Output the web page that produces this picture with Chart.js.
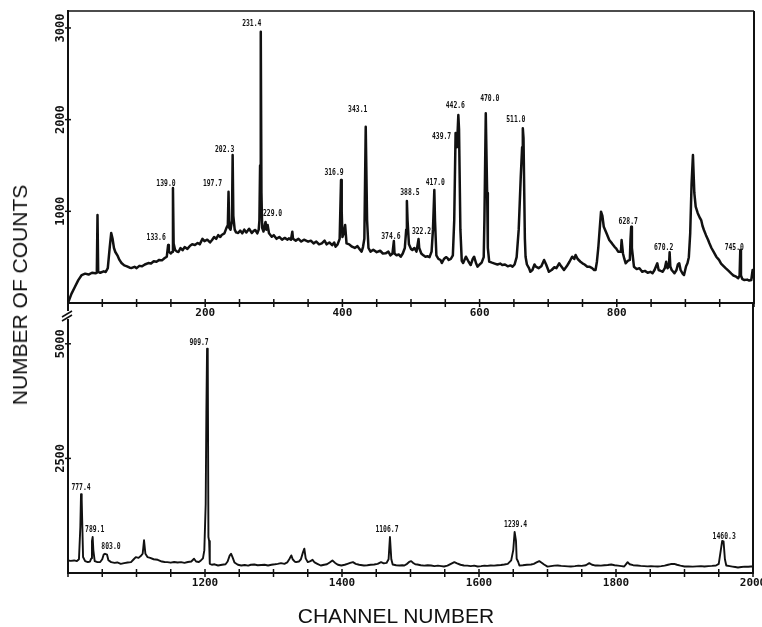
<!DOCTYPE html>
<html>
<head>
<meta charset="utf-8">
<script src="https://cdn.jsdelivr.net/npm/chart.js@4.4.1/dist/chart.umd.min.js"></script>
<style>
  html, body { margin: 0; padding: 0; background: #fff; }
  #sheet { position: relative; width: 762px; height: 627px; overflow: hidden; background: #fff; }
  #sheet canvas { position: absolute; left: 0; }
  #topChart { top: 0; }
  #bottomChart { top: 290px; }
  .title { position: absolute; font: 21px "Liberation Sans", Arial, sans-serif; color: #111; white-space: nowrap; }
  #yTitle { left: 20px; top: 295px; transform: translate(-50%, -50%) rotate(-90deg); }
  #xTitle { left: 396px; top: 616px; transform: translate(-50%, -50%); }
</style>
</head>
<body>
<div id="sheet">
  <canvas id="topChart" width="790" height="330"></canvas>
  <canvas id="bottomChart" width="790" height="337"></canvas>
  <div class="title" id="yTitle">NUMBER OF COUNTS</div>
  <div class="title" id="xTitle">CHANNEL NUMBER</div>
</div>
<script>
// spectrum, channels 0-1000
const topChannels = [
  0, 5, 10, 15, 20, 25, 30, 35, 40, 42,
  43, 44, 47, 52, 55, 58, 61, 63, 65, 67,
  69, 72, 75, 78, 82, 86, 90, 93, 97, 100,
  104, 108, 112, 117, 121, 125, 129, 133, 137, 141,
  144, 146, 147, 150, 152, 153, 154, 156, 159, 161,
  164, 167, 170, 174, 178, 181, 185, 189, 192, 196,
  199, 203, 207, 210, 213, 216, 219, 222, 224, 228,
  231, 233, 234, 235, 237, 239, 240, 241, 243, 245,
  248, 251, 254, 257, 260, 264, 268, 271, 273, 276,
  278, 279, 280, 281, 282, 283, 285, 287, 288, 289,
  291, 293, 297, 300, 304, 308, 312, 316, 320, 322,
  325, 327, 328, 332, 336, 340, 344, 350, 354, 358,
  362, 366, 370, 374, 377, 381, 385, 388, 390, 393,
  396, 398, 399, 400, 402, 404, 406, 410, 414, 418,
  422, 426, 428, 430, 432, 434, 436, 438, 441, 445,
  450, 455, 459, 463, 467, 470, 473, 475, 476, 479,
  482, 485, 488, 491, 493, 494, 495, 497, 500, 502,
  505, 508, 511, 512, 515, 518, 521, 524, 527, 530,
  532, 534, 535, 537, 540, 543, 545, 548, 551, 553,
  555, 558, 561, 563, 565, 567, 569, 570, 572, 574,
  576, 580, 584, 587, 590, 592, 595, 597, 600, 603,
  606, 607, 609, 611, 612, 614, 618, 622, 626, 630,
  633, 637, 641, 645, 648, 651, 654, 657, 660, 662,
  663, 664, 666, 667, 669, 672, 674, 677, 680, 682,
  686, 690, 694, 697, 701, 705, 709, 712, 716, 719,
  723, 727, 731, 735, 738, 740, 743, 747, 750, 753,
  757, 760, 764, 767, 769, 771, 773, 775, 777, 779,
  781, 785, 789, 793, 797, 799, 802, 806, 807, 809,
  811, 813, 816, 819, 820, 821, 822, 825, 829, 833,
  837, 841, 845, 849, 852, 855, 859, 861, 864, 867,
  870, 872, 874, 876, 877, 878, 880, 884, 887, 889,
  891, 893, 896, 898, 901, 903, 905, 907, 909, 911,
  912, 913, 915, 918, 921, 923, 925, 927, 930, 933,
  935, 938, 941, 945, 949, 952, 956, 959, 963, 967,
  970, 974, 977, 979, 980, 981, 983, 986, 990, 993,
  996, 998, 999, 1000
];
const topCounts = [
  0, 100, 175, 250, 305, 320, 310, 330, 325, 330,
  960, 340, 330, 345, 338, 380, 620, 764, 700, 600,
  556, 520, 470, 436, 410, 400, 385, 382, 395, 380,
  405, 400, 420, 436, 430, 455, 450, 470, 465, 490,
  505, 633, 560, 540, 560, 1254, 650, 580, 560, 556,
  600, 575, 610, 590, 625, 640, 633, 655, 640, 700,
  675, 690, 660, 687, 720, 700, 740, 720, 742, 760,
  820, 850, 1214, 820, 800, 900, 1614, 950, 800, 770,
  764, 790, 760, 800, 770, 810, 764, 790, 796, 760,
  800, 900, 1500, 2960, 1200, 820, 780, 860, 884, 800,
  850, 760, 723, 740, 700, 720, 690, 710, 690, 705,
  690, 778, 700, 680, 700, 670, 690, 669, 680, 650,
  670, 640, 651, 680, 640, 660, 630, 660, 614, 640,
  700, 1342, 1000, 720, 760, 851, 650, 640, 614, 600,
  620, 578, 560, 610, 700, 1923, 900, 600, 560, 580,
  555, 570, 540, 542, 560, 520, 540, 676, 540, 520,
  530, 505, 540, 600, 800, 1113, 900, 640, 590, 578,
  600, 560, 698, 600, 540, 520, 505, 510, 500, 560,
  800, 1233, 900, 520, 480, 469, 436, 480, 500, 490,
  469, 480, 520, 900, 1854, 1700, 2051, 1900, 800, 460,
  436, 505, 450, 414, 480, 505, 430, 396, 420, 440,
  500, 900, 2069, 1200, 600, 451, 440, 430, 420, 430,
  414, 420, 400, 410, 396, 420, 500, 800, 1378, 1700,
  1905, 1800, 700, 505, 420, 380, 341, 360, 420, 396,
  380, 400, 469, 420, 341, 360, 390, 380, 433, 400,
  360, 400, 450, 505, 480, 524, 480, 450, 433, 420,
  396, 396, 380, 360, 360, 450, 600, 800, 996, 950,
  832, 760, 687, 650, 610, 596, 560, 560, 687, 540,
  480, 433, 460, 470, 700, 833, 600, 396, 370, 380,
  341, 350, 330, 340, 324, 360, 433, 360, 350, 341,
  380, 451, 380, 400, 553, 400, 360, 324, 360, 420,
  433, 360, 320, 305, 400, 433, 500, 760, 1300, 1614,
  1400, 1200, 1050, 980, 930, 905, 840, 796, 740, 690,
  651, 600, 560, 505, 470, 430, 400, 378, 350, 320,
  300, 287, 270, 300, 578, 300, 260, 251, 255, 245,
  251, 360, 280, 280
];

// spectrum, channels 1000-2000
const bottomChannels = [
  1000, 1004, 1009, 1013, 1016, 1018, 1019, 1020, 1022, 1025,
  1029, 1032, 1034, 1035, 1036, 1037, 1039, 1043, 1047, 1050,
  1052, 1054, 1057, 1059, 1063, 1068, 1072, 1077, 1082, 1087,
  1092, 1096, 1099, 1103, 1107, 1109, 1111, 1113, 1116, 1120,
  1125, 1131, 1137, 1141, 1145, 1150, 1155, 1160, 1165, 1170,
  1175, 1180, 1184, 1187, 1191, 1194, 1197, 1199, 1201, 1202,
  1203, 1204, 1205, 1206, 1207, 1210, 1214, 1219, 1225, 1230,
  1233, 1236, 1238, 1240, 1243, 1248, 1253, 1258, 1263, 1267,
  1272, 1277, 1282, 1287, 1292, 1297, 1302, 1306, 1311, 1316,
  1320, 1323, 1326, 1328, 1331, 1333, 1337, 1340, 1343, 1345,
  1347, 1350, 1354, 1357, 1360, 1364, 1369, 1374, 1378, 1382,
  1386, 1390, 1394, 1399, 1404, 1408, 1412, 1416, 1420, 1425,
  1432, 1437, 1442, 1447, 1452, 1457, 1461, 1465, 1468, 1470,
  1472, 1474, 1479, 1484, 1488, 1491, 1495, 1498, 1501, 1504,
  1507, 1510, 1515, 1520, 1525, 1530, 1535, 1540, 1545, 1549,
  1554, 1559, 1564, 1568, 1573, 1578, 1583, 1588, 1593, 1598,
  1603, 1608, 1612, 1617, 1622, 1627, 1632, 1637, 1642, 1647,
  1650, 1652, 1654, 1655, 1657, 1659, 1664, 1670, 1676, 1680,
  1684, 1688, 1691, 1695, 1700, 1705, 1710, 1715, 1720, 1725,
  1730, 1734, 1740, 1745, 1750, 1756, 1761, 1765, 1769, 1773,
  1778, 1783, 1788, 1793, 1798, 1803, 1808, 1812, 1815, 1817,
  1820, 1825, 1831, 1836, 1841, 1846, 1851, 1856, 1861, 1866,
  1871, 1876, 1880, 1885, 1889, 1894, 1900, 1906, 1912, 1918,
  1924, 1929, 1935, 1940, 1946, 1950, 1953, 1955, 1957, 1959,
  1961, 1966, 1970, 1974, 1978, 1983, 1988, 1993, 1997, 2000
];
const bottomCounts = [
  274, 265, 274, 260, 300, 1000, 1721, 1600, 350, 260,
  237, 250, 320, 700, 785, 500, 260, 237, 240, 300,
  400, 420, 400, 280, 237, 220, 230, 200, 215, 230,
  237, 300, 347, 330, 383, 420, 713, 420, 347, 330,
  300, 288, 250, 240, 237, 225, 240, 230, 237, 220,
  240, 250, 310, 250, 240, 274, 320, 493, 1500, 3500,
  4895, 4800, 785, 700, 200, 180, 190, 164, 180, 190,
  250, 380, 420, 350, 230, 180, 164, 175, 160, 180,
  186, 170, 175, 180, 164, 180, 190, 200, 215, 200,
  230, 300, 384, 300, 250, 237, 250, 300, 450, 530,
  320, 237, 260, 288, 230, 200, 164, 180, 190, 230,
  274, 220, 180, 164, 180, 200, 220, 237, 200, 180,
  164, 170, 180, 186, 200, 237, 210, 220, 300, 785,
  300, 186, 170, 164, 170, 164, 200, 240, 259, 220,
  190, 186, 170, 160, 170, 164, 150, 160, 150, 142,
  160, 200, 237, 210, 180, 164, 160, 150, 160, 142,
  150, 160, 155, 164, 160, 170, 175, 186, 200, 274,
  500, 895, 700, 310, 250, 164, 170, 180, 186, 200,
  230, 259, 230, 186, 140, 150, 160, 164, 155, 150,
  145, 142, 150, 160, 155, 170, 215, 180, 165, 164,
  160, 170, 175, 186, 170, 160, 150, 142, 200, 237,
  190, 170, 164, 155, 150, 145, 150, 145, 142, 150,
  160, 180, 195, 200, 180, 160, 142, 145, 140, 145,
  150, 142, 150, 155, 164, 200, 500, 698, 690, 300,
  164, 150, 140, 130, 120, 130, 140, 135, 142, 142
];

// line energies (keV) and the channel of the peak each one names
const topPeakLabels = ['133.6', '139.0', '197.7', '202.3', '231.4', '229.0', '316.9', '343.1', '374.6', '388.5',
                       '322.2', '417.0', '439.7', '442.6', '470.0', '511.0', '628.7', '670.2', '745.0'];
const topPeakChannels = [146, 153, 234, 240, 281, 288, 398, 434, 475, 494,
                         511, 534, 565, 569, 609, 663, 821, 877, 980];
const bottomPeakLabels = ['777.4', '789.1', '803.0', '909.7', '1106.7', '1239.4', '1460.3'];
const bottomPeakChannels = [1019, 1036, 1054, 1203, 1470, 1652, 1955];

const topYTicks = [1000, 2000, 3000];
const bottomYTicks = [2500, 5000];

// label nudges in px from the peak tip
const topLabelNudge = [[-12, -7], [-7, -4], [-16, -8], [-8, -5], [-9, -8], [7, -8], [-7, -7], [-8, -17], [-3, -4], [3, -8],
                       [3, -7], [1, -7], [-14, 4], [-3, -9], [4, -14], [-7, -8], [-3, -5], [-6, -4], [-6, -2]];
const bottomLabelNudge = [[0, -6], [2, -7], [6, -7], [-8, -6], [-3, -7], [1, -7], [2, -4]];

const INK = '#111';
const MONO = '"DejaVu Sans Mono", "Liberation Mono", monospace';

function seg(ctx, x1, y1, x2, y2) {
  ctx.beginPath();
  ctx.moveTo(x1, y1);
  ctx.lineTo(x2, y2);
  ctx.stroke();
}

// frame sides, crossing tick marks, rotated count labels and peak energies
const panelFrame = {
  id: 'panelFrame',
  afterDraw(chart, args, o) {
    const { ctx, chartArea: a } = chart;
    const x = chart.scales.x, y = chart.scales.y;
    ctx.save();
    ctx.strokeStyle = INK;
    ctx.fillStyle = INK;

    ctx.lineWidth = 2;
    seg(ctx, a.right, a.top, a.right, a.bottom + 1);
    if (o.closedTop) {
      ctx.lineWidth = 1.5;
      seg(ctx, a.left, a.top, a.right, a.top);
    }
    if (o.brokenLeft) {
      ctx.lineWidth = 2;
      seg(ctx, a.left, a.top, a.left, a.top + 8);
      seg(ctx, a.left, a.top + 16, a.left, a.bottom);
      ctx.lineWidth = 1.5;
      seg(ctx, a.left - 6, a.top + 14, a.left + 4, a.top + 8);
      seg(ctx, a.left - 6, a.top + 18, a.left + 4, a.top + 12);
    }

    ctx.lineWidth = 1.5;
    x.ticks.forEach(t => {
      const px = x.getPixelForValue(t.value);
      seg(ctx, px, a.bottom - 4, px, a.bottom + 4);
    });
    o.yTicks.forEach(v => {
      const py = y.getPixelForValue(v);
      seg(ctx, a.left - 3, py, a.left + 3, py);
    });

    ctx.font = 'bold 12px ' + MONO;
    ctx.textAlign = 'center';
    ctx.textBaseline = 'middle';
    o.yTicks.forEach(v => {
      ctx.save();
      ctx.translate(a.left - 7, y.getPixelForValue(v));
      ctx.rotate(-Math.PI / 2);
      ctx.fillText(String(v), 0, 0);
      ctx.restore();
    });

    ctx.font = 'bold 8px ' + MONO;
    const pts = chart.data.datasets[0].data;
    o.labels.forEach((txt, i) => {
      const c = o.channels[i];
      const pt = pts.find(p => p.x === c);
      const [dx, dy] = o.nudge[i];
      ctx.save();
      ctx.translate(x.getPixelForValue(c) + dx, y.getPixelForValue(pt.y) + dy);
      ctx.scale(0.8, 1);
      ctx.fillText(txt, 0, 0);
      ctx.restore();
    });
    ctx.restore();
  }
};

function makePanel(id, channels, counts, cfg) {
  return new Chart(document.getElementById(id), {
    type: 'line',
    data: {
      datasets: [{
        data: channels.map((c, i) => ({ x: c, y: counts[i] })),
        borderColor: INK,
        borderWidth: cfg.lineWidth,
        pointRadius: 0,
        tension: 0,
        borderJoinStyle: 'round',
        fill: false
      }]
    },
    options: {
      responsive: false,
      animation: false,
      layout: { padding: { left: 0, right: cfg.padRight, top: cfg.padTop, bottom: 0 } },
      plugins: {
        legend: { display: false },
        tooltip: { enabled: false },
        panelFrame: cfg.frame
      },
      scales: {
        x: {
          type: 'linear',
          min: cfg.xMin,
          max: cfg.xMax,
          afterFit: s => { s.height = cfg.xAxisHeight; },
          grid: { display: false, drawTicks: false },
          border: { display: true, color: INK, width: 2 },
          ticks: {
            stepSize: 50,
            autoSkip: false,
            maxRotation: 0,
            padding: 4,
            color: INK,
            font: { family: MONO, size: 11, weight: 'bold' },
            callback: v => (v % 200 === 0 && v > cfg.xMin && (v < cfg.xMax || cfg.labelLast)) ? String(v) : ''
          }
        },
        y: {
          min: 0,
          max: cfg.yMax,
          afterFit: s => { s.width = 68; },
          grid: { display: false, drawTicks: false },
          border: { display: !cfg.frame.brokenLeft, color: INK, width: 2 },
          ticks: { display: false }
        }
      }
    },
    plugins: [panelFrame]
  });
}

makePanel('topChart', topChannels, topCounts, {
  xMin: 0, xMax: 1000, yMax: 3185, padTop: 11, padRight: 36, xAxisHeight: 27, lineWidth: 2.5, labelLast: false,
  frame: { closedTop: true, brokenLeft: false, yTicks: topYTicks,
           labels: topPeakLabels, channels: topPeakChannels, nudge: topLabelNudge }
});

makePanel('bottomChart', bottomChannels, bottomCounts, {
  xMin: 1000, xMax: 2000, yMax: 5890, padTop: 13, padRight: 37, xAxisHeight: 54, lineWidth: 1.9, labelLast: true,
  frame: { closedTop: false, brokenLeft: true, yTicks: bottomYTicks,
           labels: bottomPeakLabels, channels: bottomPeakChannels, nudge: bottomLabelNudge }
});
</script>
</body>
</html>
